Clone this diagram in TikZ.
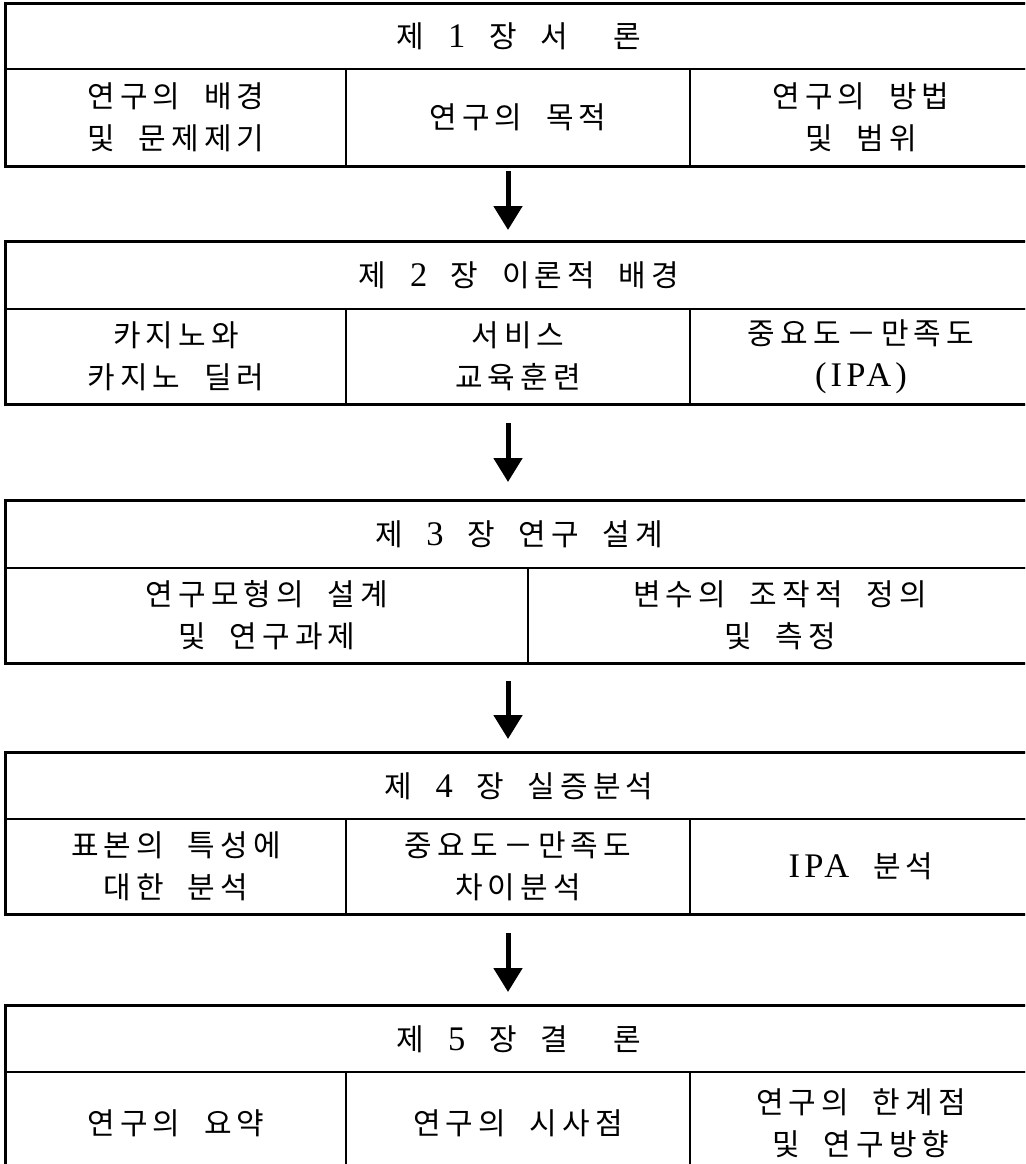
\documentclass[tikz,border=0pt]{standalone}
\usepackage{fontspec}
\setmainfont{Noto Sans CJK KR}[LetterSpace=17, WordSpace=2.0]
\newfontfamily\lat{Liberation Serif}[LetterSpace=12, Scale=1.15]
\usetikzlibrary{arrows.meta}
\tikzset{
  cell/.style={draw=black, line width=1.3pt, rectangle, inner sep=0pt, align=center,
    font=\fontsize{30}{42}\selectfont},
  outer/.style={draw=black, line width=2pt},
  flow/.style={line width=5pt, -{Triangle[width=28pt,length=24pt]}},
}
\begin{document}
\begin{tikzpicture}[x=1pt,y=-1pt]
\useasboundingbox (0,0) rectangle (1025,1164);
\begin{scope}
\clip (0,0) rectangle (1025,1164);
% Block 1
\node[cell, minimum width=1026pt, minimum height=65pt] (h1) at (519,36.5) {제 {\lat 1} 장 서 \hspace{22pt}론};
\node[cell, minimum width=340pt, minimum height=97pt] (c11) at (176,117.5) {연구의 배경\\및 문제제기};
\node[cell, minimum width=344pt, minimum height=97pt] (c12) at (518,117.5) {연구의 목적};
\node[cell, minimum width=342pt, minimum height=97pt] (c13) at (861,117.5) {연구의 방법\\및 범위};
\draw[outer] (h1.north west) rectangle (c13.south east);
% Block 2
\node[cell, minimum width=1026pt, minimum height=67pt] (h2) at (519,275.5) {제 {\lat 2} 장 이론적 배경};
\node[cell, minimum width=340pt, minimum height=95pt] (c21) at (176,356.5) {카지노와\\카지노 딜러};
\node[cell, minimum width=344pt, minimum height=95pt] (c22) at (518,356.5) {서비스\\교육훈련};
\node[cell, minimum width=342pt, minimum height=95pt] (c23) at (861,356.5) {중요도－만족도\\{\lat (IPA)}};
\draw[outer] (h2.north west) rectangle (c23.south east);
% Block 3
\node[cell, minimum width=1026pt, minimum height=67pt] (h3) at (519,534.5) {제 {\lat 3} 장 연구 설계};
\node[cell, minimum width=522pt, minimum height=95pt] (c31) at (267,615.5) {연구모형의 설계\\및 연구과제};
\node[cell, minimum width=504pt, minimum height=95pt] (c32) at (780,615.5) {변수의 조작적 정의\\및 측정};
\draw[outer] (h3.north west) rectangle (c32.south east);
% Block 4
\node[cell, minimum width=1026pt, minimum height=66pt] (h4) at (519,786) {제 {\lat 4} 장 실증분석};
\node[cell, minimum width=340pt, minimum height=95pt] (c41) at (176,866.5) {표본의 특성에\\대한 분석};
\node[cell, minimum width=344pt, minimum height=95pt] (c42) at (518,866.5) {중요도－만족도\\차이분석};
\node[cell, minimum width=342pt, minimum height=95pt] (c43) at (861,866.5) {{\lat IPA} 분석};
\draw[outer] (h4.north west) rectangle (c43.south east);
% Block 5
\node[cell, minimum width=1026pt, minimum height=66pt] (h5) at (519,1039) {제 {\lat 5} 장 결 \hspace{22pt}론};
\node[cell, minimum width=340pt, minimum height=103pt] (c51) at (176,1123.5) {연구의 요약};
\node[cell, minimum width=344pt, minimum height=103pt] (c52) at (518,1123.5) {연구의 시사점};
\node[cell, minimum width=342pt, minimum height=103pt] (c53) at (861,1123.5) {연구의 한계점\\및 연구방향};
\draw[outer] (h5.north west) rectangle (c53.south east);
\end{scope}
% Arrows
\coordinate (a1s) at (508,171); \coordinate (a1e) at (508,230);
\coordinate (a2s) at (508,423); \coordinate (a2e) at (508,482);
\coordinate (a3s) at (508,681); \coordinate (a3e) at (508,739);
\coordinate (a4s) at (508,933); \coordinate (a4e) at (508,992);
\draw[flow] (a1s) -- (a1e);
\draw[flow] (a2s) -- (a2e);
\draw[flow] (a3s) -- (a3e);
\draw[flow] (a4s) -- (a4e);
\end{tikzpicture}
\end{document}
